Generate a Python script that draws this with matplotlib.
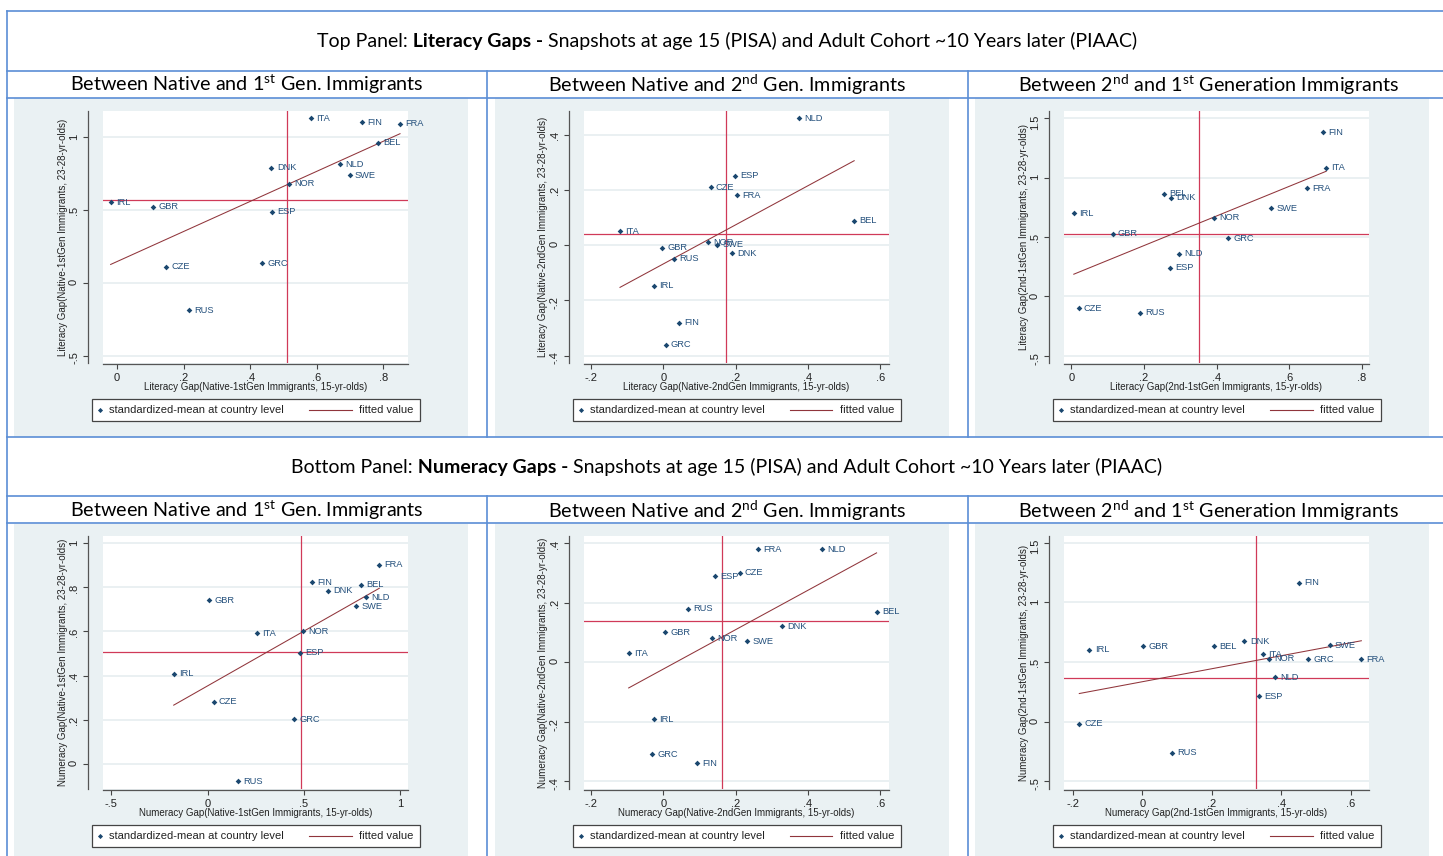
import numpy as np
import matplotlib
matplotlib.use('Agg')
import matplotlib.pyplot as plt
from matplotlib.lines import Line2D
from matplotlib.patches import Rectangle
from matplotlib.offsetbox import TextArea, HPacker, AnnotationBbox
from matplotlib.ticker import FuncFormatter

plt.rcParams['font.family'] = ['Liberation Sans', 'DejaVu Sans']
plt.rcParams['mathtext.fontset'] = 'custom'
plt.rcParams['mathtext.rm'] = 'Lato'
plt.rcParams['mathtext.bf'] = 'Lato:bold'

W, H = 1443, 856

# %%
# data
countries = ['BEL', 'CZE', 'DNK', 'ESP', 'FIN', 'FRA', 'GBR',
             'GRC', 'IRL', 'ITA', 'NLD', 'NOR', 'RUS', 'SWE']

# literacy, native vs 1st gen
lit_n1_x = [0.784, 0.147, 0.464, 0.466, 0.737, 0.850, 0.109,
            0.435, -0.019, 0.582, 0.670, 0.517, 0.217, 0.699]
lit_n1_y = [0.963, 0.112, 0.792, 0.490, 1.103, 1.094, 0.522,
            0.133, 0.554, 1.130, 0.815, 0.680, -0.190, 0.741]
lit_n1_mean = [0.511, 0.572]
lit_n1_fit = [0.146, 1.034]      # intercept, slope

# literacy, native vs 2nd gen
lit_n2_x = [0.528, 0.131, 0.190, 0.197, 0.043, 0.203, -0.004,
            0.006, -0.025, -0.120, 0.374, 0.124, 0.029, 0.148]
lit_n2_y = [0.089, 0.210, -0.029, 0.251, -0.281, 0.181, -0.010,
            -0.361, -0.148, 0.051, 0.460, 0.011, -0.049, 0.001]
lit_n2_mean = [0.172, 0.039]
lit_n2_fit = [-0.068, 0.708]

# literacy, 2nd vs 1st gen
lit_21_x = [0.255, 0.020, 0.274, 0.272, 0.692, 0.648, 0.114,
            0.431, 0.007, 0.702, 0.296, 0.392, 0.189, 0.550]
lit_21_y = [0.864, -0.098, 0.830, 0.241, 1.383, 0.912, 0.530,
            0.491, 0.701, 1.083, 0.359, 0.662, -0.137, 0.743]
lit_21_mean = [0.352, 0.525]
lit_21_fit = [0.179, 1.247]

# numeracy, native vs 1st gen
num_n1_x = [0.796, 0.031, 0.625, 0.481, 0.542, 0.891, 0.007,
            0.448, -0.176, 0.254, 0.822, 0.497, 0.156, 0.772]
num_n1_y = [0.811, 0.281, 0.784, 0.503, 0.823, 0.902, 0.742,
            0.202, 0.409, 0.591, 0.754, 0.601, -0.079, 0.715]
num_n1_mean = [0.483, 0.508]
num_n1_fit = [0.353, 0.497]

# numeracy, native vs 2nd gen
num_n2_x = [0.590, 0.211, 0.329, 0.142, 0.092, 0.261, 0.004,
            -0.031, -0.027, -0.096, 0.439, 0.135, 0.067, 0.232]
num_n2_y = [0.170, 0.301, 0.121, 0.290, -0.341, 0.381, 0.101,
            -0.310, -0.192, 0.030, 0.381, 0.080, 0.180, 0.071]
num_n2_mean = [0.161, 0.138]
num_n2_fit = [-0.023, 0.663]

# numeracy, 2nd vs 1st gen
num_21_x = [0.205, -0.181, 0.294, 0.335, 0.450, 0.630, 0.002,
            0.478, -0.152, 0.347, 0.383, 0.364, 0.086, 0.539]
num_21_y = [0.630, -0.020, 0.672, 0.213, 1.165, 0.521, 0.630,
            0.521, 0.602, 0.563, 0.370, 0.527, -0.261, 0.639]
num_21_mean = [0.327, 0.367]
num_21_fit = [0.334, 0.546]

headers = ['Literacy Gaps -', 'Numeracy Gaps -']
header_lead = ['Top Panel:', 'Bottom Panel:']
header_tail = ' Snapshots at age 15 (PISA) and Adult Cohort ~10 Years later (PIAAC)'
subtitles = [r'Between Native and 1$^{\mathrm{st}}$ Gen. Immigrants',
             r'Between Native and 2$^{\mathrm{nd}}$ Gen. Immigrants',
             r'Between 2$^{\mathrm{nd}}$ and 1$^{\mathrm{st}}$ Generation Immigrants']

# colours
BLUE = '#5B8ED5'
BG = '#EAF1F3'
NAVY = '#1A476F'
MAROON = '#90353B'
MEANC = '#D03A58'
GRID = '#E4ECEF'

# %%
fig = plt.figure(figsize=(W / 100, H / 100), dpi=100)
fig.patch.set_facecolor('white')


def fx(px):
    return px / W


def fy(py):
    return 1 - py / H


def stata_fmt(v, pos):
    s = f'{round(v, 6):g}'
    return s.replace('-0.', '-.').replace('0.', '.') if abs(v) < 1 and v != 0 else s


COLW = 480.5

# grey graph regions
for k in range(3):
    x0 = 14 + COLW * k
    for y0, y1 in [(98.5, 436.5), (523.5, 856)]:
        fig.add_artist(Rectangle((fx(x0), fy(y1)), 454 / W, (y1 - y0) / H,
                                 transform=fig.transFigure, facecolor=BG,
                                 edgecolor='none', zorder=0))

# table rules
for yy in [11, 71, 98, 437, 496, 523]:
    fig.add_artist(Line2D([fx(7), 1], [fy(yy), fy(yy)], color=BLUE, lw=1.2,
                          transform=fig.transFigure, zorder=2))
fig.add_artist(Line2D([fx(7), fx(7)], [fy(11), 0], color=BLUE, lw=1.2,
                      transform=fig.transFigure, zorder=2))
for xx in [487.3, 487.3 + COLW]:
    for ya, yb in [(71, 437), (496, 856)]:
        fig.add_artist(Line2D([fx(xx), fx(xx)], [fy(ya), fy(yb)], color=BLUE,
                              lw=1.2, transform=fig.transFigure, zorder=2))

# header rows
hfont = dict(family=['Lato', 'DejaVu Sans'], size=14, color='black')
for r, yc in enumerate([41, 467]):
    parts = [TextArea(header_lead[r], textprops=hfont),
             TextArea(' ' + headers[r], textprops=dict(hfont, weight='bold')),
             TextArea(header_tail, textprops=hfont)]
    box = HPacker(children=parts, align='baseline', pad=0, sep=0)
    ab = AnnotationBbox(box, (fx(727), fy(yc)), xycoords='figure fraction',
                        frameon=False, box_alignment=(0.5, 0.5), pad=0)
    fig.add_artist(ab)
    for k in range(3):
        fig.text(fx(247 + COLW * k), fy(yc + 43.5), subtitles[k],
                 ha='center', va='center', **dict(hfont, size=14.2))

# %%
panels = [
    dict(x=lit_n1_x, y=lit_n1_y, mean=lit_n1_mean, fit=lit_n1_fit,
         xlim=(-0.042, 0.874), ylim=(-0.551, 1.181),
         xt=[0, 0.2, 0.4, 0.6, 0.8], yt=[-0.5, 0, 0.5, 1],
         xl='Literacy Gap(Native-1stGen Immigrants, 15-yr-olds)',
         yl='Literacy Gap(Native-1stGen Immigrants, 23-28-yr-olds)'),
    dict(x=lit_n2_x, y=lit_n2_y, mean=lit_n2_mean, fit=lit_n2_fit,
         xlim=(-0.221, 0.623), ylim=(-0.427, 0.486),
         xt=[-0.2, 0, 0.2, 0.4, 0.6], yt=[-0.4, -0.2, 0, 0.2, 0.4],
         xl='Literacy Gap(Native-2ndGen Immigrants, 15-yr-olds)',
         yl='Literacy Gap(Native-2ndGen Immigrants, 23-28-yr-olds)'),
    dict(x=lit_21_x, y=lit_21_y, mean=lit_21_mean, fit=lit_21_fit,
         xlim=(-0.020, 0.820), ylim=(-0.56, 1.562),
         xt=[0, 0.2, 0.4, 0.6, 0.8], yt=[-0.5, 0, 0.5, 1, 1.5],
         xl='Literacy Gap(2nd-1stGen Immigrants, 15-yr-olds)',
         yl='Literacy Gap(2nd-1stGen Immigrants, 23-28-yr-olds)'),
    dict(x=num_n1_x, y=num_n1_y, mean=num_n1_mean, fit=num_n1_fit,
         xlim=(-0.543, 1.040), ylim=(-0.115, 1.033),
         xt=[-0.5, 0, 0.5, 1], yt=[0, 0.2, 0.4, 0.6, 0.8, 1],
         xl='Numeracy Gap(Native-1stGen Immigrants, 15-yr-olds)',
         yl='Numeracy Gap(Native-1stGen Immigrants, 23-28-yr-olds)'),
    dict(x=num_n2_x, y=num_n2_y, mean=num_n2_mean, fit=num_n2_fit,
         xlim=(-0.221, 0.623), ylim=(-0.427, 0.425),
         xt=[-0.2, 0, 0.2, 0.4, 0.6], yt=[-0.4, -0.2, 0, 0.2, 0.4],
         xl='Numeracy Gap(Native-2ndGen Immigrants, 15-yr-olds)',
         yl='Numeracy Gap(Native-2ndGen Immigrants, 23-28-yr-olds)'),
    dict(x=num_21_x, y=num_21_y, mean=num_21_mean, fit=num_21_fit,
         xlim=(-0.225, 0.652), ylim=(-0.566, 1.557),
         xt=[-0.2, 0, 0.2, 0.4, 0.6], yt=[-0.5, 0, 0.5, 1, 1.5],
         xl='Numeracy Gap(2nd-1stGen Immigrants, 15-yr-olds)',
         yl='Numeracy Gap(2nd-1stGen Immigrants, 23-28-yr-olds)'),
]

AXW = 305
for i, p in enumerate(panels):
    row, col = divmod(i, 3)
    top, bot = (111, 363) if row == 0 else (536, 789)
    left = 103 + COLW * col
    ax = fig.add_axes([fx(left), fy(bot), AXW / W, (bot - top) / H])
    ax.set_facecolor('white')

    x = np.array(p['x'])
    y = np.array(p['y'])
    ax.plot(x, y, 'D', ms=2.9, color=NAVY, mew=0, zorder=4)
    for c, xi, yi in zip(countries, x, y):
        ax.annotate(c, (xi, yi), xytext=(3.8, 0), textcoords='offset points',
                    va='center', ha='left', fontsize=6.7, color='#24507C',
                    annotation_clip=False, zorder=5)

    ax.axvline(p['mean'][0], color=MEANC, lw=0.9, zorder=2)
    ax.axhline(p['mean'][1], color=MEANC, lw=0.9, zorder=2)

    xs = np.array([x.min(), x.max()])
    ax.plot(xs, p['fit'][0] + p['fit'][1] * xs, color=MAROON, lw=0.75, zorder=3)

    ax.set_xlim(p['xlim'])
    ax.set_ylim(p['ylim'])
    ax.set_xticks(p['xt'])
    ax.set_yticks(p['yt'])
    ax.xaxis.set_major_formatter(FuncFormatter(stata_fmt))
    ax.yaxis.set_major_formatter(FuncFormatter(stata_fmt))
    ax.tick_params(axis='both', length=3.4, width=0.8, color='#444444',
                   labelsize=8, labelcolor='#222222', pad=3)
    ax.tick_params(axis='y', labelrotation=90)
    ax.yaxis.grid(True, color=GRID, lw=1.1)
    ax.set_axisbelow(True)

    for s in ['top', 'right']:
        ax.spines[s].set_visible(False)
    ax.spines['left'].set_position(('outward', 10.8))
    ax.spines['bottom'].set_position(('outward', 0.8))
    for s in ['left', 'bottom']:
        ax.spines[s].set_color('#555555')
        ax.spines[s].set_linewidth(0.9)

    ax.set_xlabel(p['xl'], fontsize=7, color='#222222', va='center')
    ax.set_ylabel(p['yl'], fontsize=7, color='#222222', va='center')
    ax.xaxis.set_label_coords(0.5, -24 / (bot - top))
    ax.yaxis.set_label_coords(-40 / AXW, 0.5)

    # stata-style legend box under each graph
    lx0, lx1 = left - 11, left + 317
    ly0, ly1 = bot + 36, bot + 58
    lyc = (ly0 + ly1) / 2
    fig.add_artist(Rectangle((fx(lx0), fy(ly1)), (lx1 - lx0) / W, (ly1 - ly0) / H,
                             transform=fig.transFigure, facecolor='white',
                             edgecolor='#444444', lw=0.9, zorder=3))
    fig.add_artist(Line2D([fx(lx0 + 8)], [fy(lyc)], marker='D', ms=2.6, mew=0,
                          color=NAVY, transform=fig.transFigure, zorder=4))
    fig.text(fx(lx0 + 17), fy(lyc), 'standardized-mean at country level',
             fontsize=8, va='center', ha='left', color='#222222', zorder=4)
    fig.add_artist(Line2D([fx(lx0 + 217), fx(lx0 + 260)], [fy(lyc), fy(lyc)],
                          color=MAROON, lw=0.8, transform=fig.transFigure, zorder=4))
    fig.text(fx(lx0 + 267), fy(lyc), 'fitted value', fontsize=8,
             va='center', ha='left', color='#222222', zorder=4)

fig.savefig('out.png', dpi=100, facecolor='white')
